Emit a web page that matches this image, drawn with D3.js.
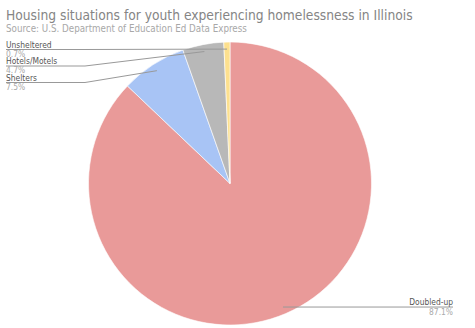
<!DOCTYPE html>
<html><head><meta charset="utf-8">
<script src="https://cdn.jsdelivr.net/npm/d3@7"></script>
<style>body{margin:0;background:#fff;}svg{display:block;font-family:"DejaVu Sans Condensed","DejaVu Sans",sans-serif;}</style>
</head><body>
<svg id="c" width="475" height="328"></svg>
<script>
const categories = ["Doubled-up", "Shelters", "Hotels/Motels", "Unsheltered"];
const values = [87.1, 7.5, 4.7, 0.7];
const colors = ["#E99A99", "#A8C4F5", "#B8B8B8", "#FDE08E"];
const labelSide = ["right", "left", "left", "left"];
const leftLabelY = {"Unsheltered": 49.5, "Hotels/Motels": 66, "Shelters": 82.5};

const svg = d3.select("#c");

function fitText(sel, target, base) {
  const w = sel.node().getComputedTextLength();
  sel.attr("font-size", base * target / w);
}

const title = svg.append("text").attr("x", 6).attr("y", 19.5).attr("fill", "#858585")
  .attr("font-size", 15).text("Housing situations for youth experiencing homelessness in Illinois");
fitText(title, 407, 15);
const sub = svg.append("text").attr("x", 6).attr("y", 31.8).attr("fill", "#a8a8a8")
  .attr("font-size", 9.5).text("Source: U.S. Department of Education Ed Data Express");
fitText(sub, 241, 9.5);

const cx = 230, cy = 183.5, r = 141.5;
const data = categories.map((c, i) => ({cat: c, v: values[i], color: colors[i], side: labelSide[i]}));
const pie = d3.pie().value(d => d.v).sort(null);
const arcs = pie(data);
const arc = d3.arc().innerRadius(0).outerRadius(r);
const g = svg.append("g").attr("transform", `translate(${cx},${cy})`);
g.selectAll("path").data(arcs).join("path")
  .attr("d", arc).attr("fill", d => d.data.color)
  .attr("stroke", "#fff").attr("stroke-width", 0.6);

const inner = d3.arc().innerRadius(r * 0.95).outerRadius(r * 0.95);
const lfs = 8.4;
arcs.forEach(a => {
  const [px, py] = inner.centroid(a);
  const x = px + cx, y = py + cy;
  if (a.data.side === "right") {
    const xr = 453;
    svg.append("polyline").attr("points", `${x},${y} ${xr},${y}`)
      .attr("fill", "none").attr("stroke", "#999").attr("stroke-width", 1);
    svg.append("text").attr("x", xr).attr("y", y - 2).attr("text-anchor", "end")
      .attr("font-size", lfs).attr("fill", "#555").text(a.data.cat);
    svg.append("text").attr("x", xr).attr("y", y + 7.5).attr("text-anchor", "end")
      .attr("font-size", lfs).attr("fill", "#aaa").text(a.data.v.toFixed(1) + "%");
  } else {
    const ly = leftLabelY[a.data.cat];
    svg.append("polyline").attr("points", `6,${ly} 85,${ly} ${x},${y}`)
      .attr("fill", "none").attr("stroke", "#999").attr("stroke-width", 1);
    svg.append("text").attr("x", 6).attr("y", ly - 1.8)
      .attr("font-size", lfs).attr("fill", "#555").text(a.data.cat);
    svg.append("text").attr("x", 6).attr("y", ly + 7.4)
      .attr("font-size", lfs).attr("fill", "#aaa").text(a.data.v.toFixed(1) + "%");
  }
});
</script>
</body></html>
